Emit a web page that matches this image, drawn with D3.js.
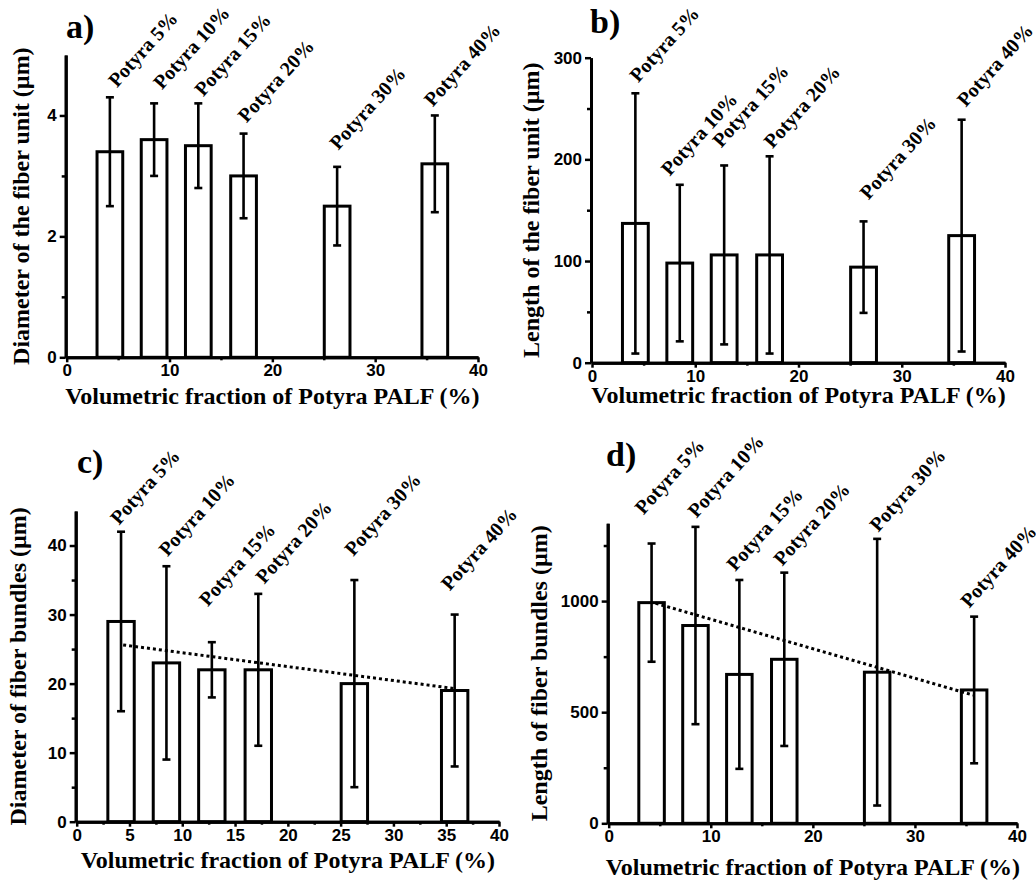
<!DOCTYPE html>
<html>
<head>
<meta charset="utf-8">
<script src="https://cdn.jsdelivr.net/npm/d3@7"></script>
<style>
  body { margin: 0; background: #fff; }
  svg { display: block; }
  .serif { font-family: "Liberation Serif", "Times New Roman", serif; font-weight: bold; fill: #000; }
</style>
</head>
<body>
<div id="chart"></div>
<script>
// bar positions on the x axis (volumetric fraction, %)
const barX = [4.2, 8.5, 12.8, 17.2, 26.3, 35.8];
const fractions = [5, 10, 15, 20, 30, 40];

// a) diameter of the fiber unit (µm)
const unitDiameter = [3.4, 3.6, 3.5, 3.0, 2.5, 3.2];
const unitDiameterErr = [0.9, 0.6, 0.7, 0.7, 0.65, 0.8];
// b) length of the fiber unit (µm)
const unitLength = [137, 98, 106, 106, 94, 125];
const unitLengthErr = [128, 77, 88, 97, 45, 114];
// c) diameter of fiber bundles (µm)
const bundleDiameter = [29, 23, 22, 22, 20, 19];
const bundleDiameterErr = [13, 14, 4, 11, 15, 11];
const bundleDiameterTrendX = [4.4, 35.7];
const bundleDiameterTrendY = [25.6, 19.3];
// d) length of fiber bundles (µm)
const bundleLength = [993, 890, 670, 738, 680, 600];
const bundleLengthErr = [266, 444, 425, 390, 600, 330];
const bundleLengthTrendX = [4.6, 35.7];
const bundleLengthTrendY = [990, 577];

// tick values
const xMajor10 = [0, 10, 20, 30, 40];
const xMinor10 = [5, 15, 25, 35];
const xMajor5 = [0, 5, 10, 15, 20, 25, 30, 35, 40];
const xMinor5 = [2.5, 7.5, 12.5, 17.5, 22.5, 27.5, 32.5, 37.5];
const aYMajor = [0, 2, 4], aYMinor = [1, 3];
const bYMajor = [0, 100, 200, 300], bYMinor = [50, 150, 250];
const cYMajor = [0, 10, 20, 30, 40], cYMinor = [5, 15, 25, 35];
const dYMajor = [0, 500, 1000], dYMinor = [250, 750, 1250];

const xTitle = "Volumetric fraction of Potyra PALF (%)";

// layout of the four panels; nudge = [dx, dy] px of each label from its error bar top
const panels = [
  { letter: "a)", vals: unitDiameter, err: unitDiameterErr, yMax: 5, yMajor: aYMajor, yMinor: aYMinor,
    xMajor: xMajor10, xMinor: xMinor10, yTitle: "Diameter of the fiber unit (µm)",
    box: { x0: 66.7, x1: 478, y0: 357.3, y1: 55 }, titleY: 404, yTitleX: 29, letterPos: [66, 38],
    nudge: [[3, -9], [4, -13], [1, -6], [-1, -10], [-3, -16], [-6, -8]] },
  { letter: "b)", vals: unitLength, err: unitLengthErr, yMax: 300, yMajor: bYMajor, yMinor: bYMinor,
    xMajor: xMajor10, xMinor: xMinor10, yTitle: "Length of the fiber unit (µm)",
    box: { x0: 592, x1: 1005, y0: 362.7, y1: 57.7 }, titleY: 403, yTitleX: 539, letterPos: [590, 33],
    nudge: [[-1, -10], [-14, -8], [-7, -17], [-1, -7], [1, -21], [0, -12]] },
  { letter: "c)", vals: bundleDiameter, err: bundleDiameterErr, yMax: 45, yMajor: cYMajor, yMinor: cYMinor,
    xMajor: xMajor5, xMinor: xMinor5, yTitle: "Diameter of fiber bundles (µm)",
    trendX: bundleDiameterTrendX, trendY: bundleDiameterTrendY,
    box: { x0: 76.7, x1: 499, y0: 821.7, y1: 511 }, titleY: 868, yTitleX: 26, letterPos: [77, 473],
    nudge: [[-6, -6], [-3, -9], [-8, -35], [2, -9], [-5, -23], [-9, -23]] },
  { letter: "d)", vals: bundleLength, err: bundleLengthErr, yMax: 1350, yMajor: dYMajor, yMinor: dYMinor,
    xMajor: xMajor10, xMinor: xMinor10, yTitle: "Length of fiber bundles (µm)",
    trendX: bundleLengthTrendX, trendY: bundleLengthTrendY,
    box: { x0: 608.7, x1: 1017, y0: 823.3, y1: 523.3 }, titleY: 875, yTitleX: 547, letterPos: [606, 466],
    nudge: [[-12, -28], [-3, -8], [-8, -8], [-6, -6], [-3, -6], [-9, -8]] }
];

const svg = d3.select("#chart").append("svg")
  .attr("width", 1036)
  .attr("height", 892);

panels.forEach(p => {
  const g = svg.append("g");
  const x = d3.scaleLinear().domain([0, 40]).range([p.box.x0, p.box.x1]);
  const y = d3.scaleLinear().domain([0, p.yMax]).range([p.box.y0, p.box.y1]);
  const halfW = 1.25;

  const rows = barX.map((c, i) => ({ c, v: p.vals[i], e: p.err[i], label: `Potyra ${fractions[i]}%`, n: p.nudge[i] }));

  // bars
  g.append("g").selectAll("rect")
    .data(rows)
    .join("rect")
    .attr("x", d => x(d.c - halfW))
    .attr("y", d => y(d.v))
    .attr("width", d => x(d.c + halfW) - x(d.c - halfW))
    .attr("height", d => y(0) - y(d.v))
    .attr("fill", "#fff")
    .attr("stroke", "#000")
    .attr("stroke-width", 3);

  // error bars
  const eb = g.append("g").attr("stroke", "#000").attr("stroke-width", 2.6);
  eb.selectAll("line.v").data(rows).join("line")
    .attr("class", "v")
    .attr("x1", d => x(d.c)).attr("x2", d => x(d.c))
    .attr("y1", d => y(d.v - d.e)).attr("y2", d => y(d.v + d.e));
  ["lo", "hi"].forEach(k => {
    eb.selectAll("line." + k).data(rows).join("line")
      .attr("class", k)
      .attr("x1", d => x(d.c) - 4).attr("x2", d => x(d.c) + 4)
      .attr("y1", d => y(k === "lo" ? d.v - d.e : d.v + d.e))
      .attr("y2", d => y(k === "lo" ? d.v - d.e : d.v + d.e));
  });

  // dotted trend line
  if (p.trendX) {
    g.append("path")
      .datum(p.trendX.map((tx, i) => [tx, p.trendY[i]]))
      .attr("d", d3.line().x(d => x(d[0])).y(d => y(d[1])))
      .attr("fill", "none")
      .attr("stroke", "#000")
      .attr("stroke-width", 3)
      .attr("stroke-dasharray", "3,3");
  }

  // axes
  const fmt = d3.format("d");
  const xAxis = g.append("g").attr("transform", `translate(0,${p.box.y0})`);
  xAxis.append("g").call(d3.axisBottom(x).tickValues(p.xMinor).tickSize(3).tickSizeOuter(0).tickFormat(""));
  xAxis.append("g").call(d3.axisBottom(x).tickValues(p.xMajor).tickSize(5).tickSizeOuter(0).tickPadding(2).tickFormat(fmt));
  const yAxis = g.append("g").attr("transform", `translate(${p.box.x0 - 1},0)`);
  yAxis.append("g").call(d3.axisLeft(y).tickValues(p.yMinor).tickSize(4).tickSizeOuter(0).tickFormat(""));
  yAxis.append("g").call(d3.axisLeft(y).tickValues(p.yMajor).tickSize(6).tickSizeOuter(0).tickPadding(3).tickFormat(fmt));
  g.selectAll(".domain").attr("stroke-width", 3);
  g.selectAll(".tick line").attr("stroke-width", 2.5);
  g.selectAll(".tick text")
    .style("font-family", "'Liberation Sans', Arial, sans-serif")
    .style("font-weight", "700")
    .style("font-size", "17px")
    .style("fill", "#000");

  // bar labels
  g.append("g").selectAll("text")
    .data(rows)
    .join("text")
    .attr("class", "serif")
    .attr("transform", d => `translate(${x(d.c) + d.n[0] + 4},${y(d.v + d.e) + d.n[1]}) rotate(-48)`)
    .style("font-size", "20px")
    .text(d => d.label);

  // axis titles
  g.append("text")
    .attr("class", "serif")
    .attr("x", (p.box.x0 + p.box.x1) / 2)
    .attr("y", p.titleY)
    .attr("text-anchor", "middle")
    .style("font-size", "24px")
    .text(xTitle);

  g.append("text")
    .attr("class", "serif")
    .attr("transform", `translate(${p.yTitleX},${(p.box.y0 + p.box.y1) / 2}) rotate(-90)`)
    .attr("text-anchor", "middle")
    .style("font-size", "24px")
    .text(p.yTitle);

  // panel letter
  g.append("text")
    .attr("class", "serif")
    .attr("x", p.letterPos[0])
    .attr("y", p.letterPos[1])
    .style("font-size", "34px")
    .text(p.letter);
});
</script>
</body>
</html>
